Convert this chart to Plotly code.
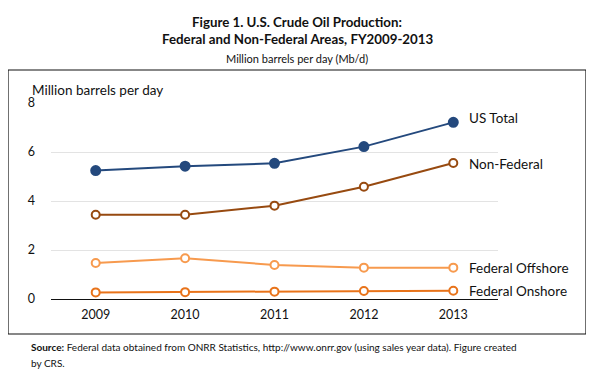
import plotly.graph_objects as go

years = [2009, 2010, 2011, 2012, 2013]
us_total = [5.24, 5.42, 5.54, 6.22, 7.21]
non_federal = [3.44, 3.44, 3.81, 4.58, 5.55]
federal_offshore = [1.47, 1.66, 1.39, 1.28, 1.28]
federal_onshore = [0.27, 0.28, 0.30, 0.33, 0.34]

series_names = ["US Total", "Non-Federal", "Federal Offshore", "Federal Onshore"]
series_values = [us_total, non_federal, federal_offshore, federal_onshore]
colors = ["#24497d", "#974a10", "#f79a4e", "#e8731a"]
filled = [True, False, False, False]

FONT = "Lato"
OFF = 8  # page body margin offset

L, R, T, B = 51 - OFF, 498 - OFF, 103 - OFF, 299 - OFF
PW, PH = R - L, B - T

fig = go.Figure()
for name, vals, col, fl in zip(series_names, series_values, colors, filled):
    fig.add_trace(go.Scatter(
        x=years, y=vals, mode="lines+markers", name=name,
        line=dict(color=col, width=2),
        marker=dict(size=9 if fl else 8, color=col if fl else "white",
                    line=dict(color=col, width=2)),
        showlegend=False, cliponaxis=False,
    ))
    fig.add_annotation(x=years[-1], y=vals[-1], text=name, showarrow=False,
                       xanchor="left", yanchor="middle", xshift=14,
                       yshift=4 if name == "US Total" else (-1 if name == "Non-Federal" else 0),
                       font=dict(family=FONT, size=13.5, color="#111"))

fig.update_layout(
    width=594, height=379,
    paper_bgcolor="white", plot_bgcolor="white",
    margin=dict(l=L, r=594 - R, t=T, b=379 - B),
    font=dict(family=FONT, size=12, color="#111"),
    xaxis=dict(range=[2008.5, 2013.5], tickmode="array", tickvals=years,
               ticktext=[str(y) for y in years], showgrid=False, showline=False,
               zeroline=False, ticks="", ticklabelstandoff=6,
               tickfont=dict(family=FONT, size=12.5, color="#111"),
               fixedrange=True),
    yaxis=dict(range=[0, 8], tickvals=[0, 2, 4, 6, 8], showgrid=True,
               gridcolor="#e3e3e3", gridwidth=1, zeroline=True, zerolinecolor="#111",
               zerolinewidth=1.2, ticks="", ticklabelstandoff=15,
               tickfont=dict(family=FONT, size=12.5, color="#111"), fixedrange=True),
)

def px_to_paper(x, y):
    return (x - OFF - L) / PW, (B - (y - OFF)) / PH

x0, y1 = px_to_paper(8, 70)
x1, y0 = px_to_paper(586, 334)
fig.add_shape(type="rect", xref="paper", yref="paper", x0=x0, x1=x1, y0=y0, y1=y1,
              line=dict(color="#111", width=1.2), fillcolor="rgba(0,0,0,0)", layer="below")

annos = [
    (297, 22, "<b>Figure 1. U.S. Crude Oil Production:</b>", 13.3, "center"),
    (297, 39, "<b>Federal and Non-Federal Areas, FY2009-2013</b>", 13.3, "center"),
    (297, 58, "Million barrels per day (Mb/d)", 11, "center"),
    (30, 90, "Million barrels per day", 13.5, "left"),
    (29, 347, "<b>Source:</b> Federal data obtained from ONRR Statistics, http://www.onrr.gov (using sales year data). Figure created", 10, "left"),
    (29, 363, "by CRS.", 10, "left"),
]
for x, y, t, s, anc in annos:
    px, py = px_to_paper(x, y)
    fig.add_annotation(x=px, y=py, xref="paper", yref="paper", text=t, showarrow=False,
                       xanchor=anc, yanchor="middle", font=dict(family=FONT, size=s, color="#111"))

fig.write_html("out.html")
